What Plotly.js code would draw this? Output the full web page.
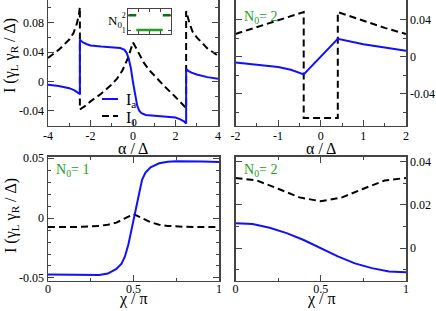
<!DOCTYPE html>
<html>
<head>
<meta charset="utf-8">
<script src="https://cdn.plot.ly/plotly-3.0.1.min.js"></script>
<style>html,body{margin:0;padding:0;background:#fff;}#chart{width:436px;height:311px;}</style>
</head>
<body>
<div id="chart"></div>
<script>
// ---- Panel (a): current vs alpha/Delta, N0 changes ----
const alphaA = [-4, -3.5, -3, -2.75, -2.6, -2.5, -2.5, -2.4, -2.2, -2, -1.5, -1, -0.6, -0.4, -0.3, -0.2, -0.1, 0, 0.1, 0.2, 0.3, 0.4, 0.6, 1, 1.5, 2, 2.2, 2.4, 2.5, 2.5, 2.6, 2.75, 3, 3.5, 4];
const IaA    = [-0.0045, -0.006, -0.009, -0.012, -0.015, -0.017, 0.057, 0.054, 0.051, 0.049, 0.0475, 0.0467, 0.0455, 0.043, 0.039, 0.031, 0.018, -0.001, -0.02, -0.033, -0.04, -0.043, -0.0455, -0.0467, -0.0475, -0.049, -0.051, -0.054, -0.057, 0.017, 0.0145, 0.012, 0.0095, 0.006, 0.0038];
const alphaB = [-4, -3.5, -3, -2.8, -2.65, -2.55, -2.5, -2.5, -2.25, -2, -1.5, -1, -0.75, -0.5, -0.25, -0.1, 0, 0.1, 0.25, 0.5, 0.75, 1, 1.5, 2, 2.25, 2.5, 2.5, 2.55, 2.65, 2.8, 3, 3.5, 4];
const I0A    = [0.032, 0.043, 0.057, 0.066, 0.078, 0.09, 0.101, -0.038, -0.033, -0.027, -0.0165, -0.004, 0.004, 0.015, 0.031, 0.045, 0.053, 0.048, 0.04, 0.026, 0.016, 0.008, -0.007, -0.021, -0.029, -0.036, 0.096, 0.09, 0.08, 0.068, 0.06, 0.045, 0.035];
// inset: N0 vs alpha
const insetX2L = [-4, -2.5];
const insetX2R = [2.5, 4];
const insetN2  = [2, 2];
const insetX1  = [-2.5, 2.5];
const insetN1  = [1, 1];

// ---- Panel (b): N0 = 2, current vs alpha/Delta ----
const alphaC = [-2, -1.5, -1, -0.7, -0.4, 0.4, 0.7, 1, 1.5, 2];
const IaC    = [-0.0062, -0.0085, -0.011, -0.014, -0.019, 0.0193, 0.0165, 0.0135, 0.0098, 0.0065];
const alphaD = [-2, -1.5, -1, -0.4, -0.4, 0.4, 0.4, 1, 1.5, 2];
const I0C    = [0.0245, 0.032, 0.039, 0.048, -0.066, -0.066, 0.048, 0.0385, 0.031, 0.0245];

// ---- Panel (c): N0 = 1, current vs chi/pi ----
const chiE = [0, 0.1, 0.2, 0.25, 0.3, 0.35, 0.4, 0.43, 0.45, 0.47, 0.49, 0.5, 0.51, 0.53, 0.55, 0.57, 0.6, 0.65, 0.7, 0.75, 0.8, 0.9, 1];
const IaE  = [-0.0472, -0.0475, -0.0478, -0.0478, -0.0475, -0.0463, -0.0425, -0.038, -0.032, -0.022, -0.008, 0.0, 0.007, 0.021, 0.032, 0.038, 0.0425, 0.0458, 0.047, 0.0475, 0.0475, 0.0472, 0.0468];
const chiF = [0, 0.1, 0.2, 0.3, 0.35, 0.4, 0.45, 0.5, 0.55, 0.6, 0.65, 0.7, 0.8, 0.9, 1];
const I0E  = [-0.0075, -0.0075, -0.0073, -0.0065, -0.0055, -0.0038, -0.0005, 0.0033, 0.0, -0.0035, -0.0055, -0.0065, -0.0073, -0.0075, -0.0075];

// ---- Panel (d): N0 = 2, current vs chi/pi ----
const chiG = [0, 0.1, 0.2, 0.3, 0.4, 0.5, 0.6, 0.7, 0.8, 0.9, 1];
const IaG  = [0.0115, 0.0112, 0.0095, 0.007, 0.0038, 0.0, -0.0038, -0.007, -0.0092, -0.0107, -0.0111];
const chiH = [0, 0.125, 0.25, 0.375, 0.5, 0.625, 0.75, 0.875, 1];
const I0G  = [0.0325, 0.0313, 0.0275, 0.0235, 0.0217, 0.0235, 0.0275, 0.0313, 0.0325];

// ---- tick labels ----
const ticksAlphaWide = [-4, -2, 0, 2, 4];
const ticksAlphaWideText = ["-4", "-2", "0", "2", "4"];
const ticksAlphaNarrow = [-2, -1, 0, 1, 2];
const ticksAlphaNarrowText = ["-2", "-1", "0", "1", "2"];
const ticksChi = [0, 0.5, 1];
const ticksChiText = ["0", "0.5", "1"];
const ticksYa = [-0.04, 0, 0.04, 0.08];
const ticksYaText = ["-0.04", "0", "0.04", "0.08"];
const ticksYb = [-0.04, 0, 0.04];
const ticksYbText = ["-0.04", "0", "0.04"];
const ticksYc = [-0.05, 0, 0.05];
const ticksYcText = ["-0.05", "0", "0.05"];
const ticksYd = [0, 0.02, 0.04];
const ticksYdText = ["0", "0.02", "0.04"];
const insetTicksY = [1, 2];
const insetTicksYText = ["1", "2"];

const W = 436, H = 311;
const px = v => v / W;
const py = v => 1 - v / H;

const FONT = "Liberation Serif, Times New Roman, serif";
const BLUE = "#1010ff";
const GREEN = "#22a022";
const DARKGREEN = "#0a700a";
const FRAME = "#444444";

const dashStyle = "7px,4px";

function lineTrace(x, y, xa, ya, color, dash) {
  return {x: x, y: y, xaxis: xa, yaxis: ya, type: "scatter", mode: "lines",
          line: {color: color, width: 2, dash: dash || "solid"}, hoverinfo: "skip", showlegend: false};
}

const traces = [
  lineTrace(alphaB, I0A, "x", "y", "#000", dashStyle),
  lineTrace(alphaA, IaA, "x", "y", BLUE),
  lineTrace(alphaD, I0C, "x2", "y2", "#000", dashStyle),
  lineTrace(alphaC, IaC, "x2", "y2", BLUE),
  lineTrace(chiF, I0E, "x3", "y3", "#000", dashStyle),
  lineTrace(chiE, IaE, "x3", "y3", BLUE),
  lineTrace(chiH, I0G, "x4", "y4", "#000", dashStyle),
  lineTrace(chiG, IaG, "x4", "y4", BLUE),
  {x: insetX2L, y: insetN2, xaxis: "x5", yaxis: "y5", type: "scatter", mode: "lines", line: {color: DARKGREEN, width: 2.5}, hoverinfo: "skip", showlegend: false},
  {x: insetX2R, y: insetN2, xaxis: "x5", yaxis: "y5", type: "scatter", mode: "lines", line: {color: DARKGREEN, width: 2.5}, hoverinfo: "skip", showlegend: false},
  {x: insetX1, y: insetN1, xaxis: "x5", yaxis: "y5", type: "scatter", mode: "lines", line: {color: GREEN, width: 2.5}, hoverinfo: "skip", showlegend: false}
];

function axBase(extra) {
  return Object.assign({
    showline: true, linecolor: FRAME, linewidth: 1.5,
    ticks: "inside", ticklen: 6, tickwidth: 1, tickcolor: FRAME,
    showgrid: false, zeroline: false, fixedrange: true,
    tickfont: {family: FONT, size: 12, color: "#000"},
    tickmode: "array"
  }, extra);
}

const layout = {
  width: W, height: H,
  margin: {l: 0, r: 0, t: 0, b: 0},
  paper_bgcolor: "#fff", plot_bgcolor: "#fff",
  showlegend: false,
  xaxis: axBase({domain: [px(48), px(218)], anchor: "y", range: [-4, 4], mirror: false,
    tickvals: ticksAlphaWide, ticktext: ticksAlphaWideText, ticklabelstandoff: -2,
    minor: {tickmode: "linear", tick0: 0, dtick: 1, ticklen: 3, tickcolor: FRAME, ticks: "inside"}}),
  yaxis: axBase({domain: [py(125.7), 1], anchor: "x", range: [-0.06, 0.1108], mirror: "ticks",
    tickvals: ticksYa, ticktext: ticksYaText,
    minor: {tickmode: "linear", tick0: 0, dtick: 0.02, ticklen: 3, tickcolor: FRAME, ticks: "inside"}}),
  xaxis2: axBase({domain: [px(235.5), px(406)], anchor: "y2", range: [-2, 2], mirror: false,
    tickvals: ticksAlphaNarrow, ticktext: ticksAlphaNarrowText, ticklabelstandoff: -2,
    minor: {tickmode: "linear", tick0: 0, dtick: 0.5, ticklen: 3, tickcolor: FRAME, ticks: "inside"}}),
  yaxis2: axBase({domain: [py(125.7), 1], anchor: "x2", side: "right", range: [-0.0742, 0.061], mirror: "ticks",
    tickvals: ticksYb, ticktext: ticksYbText,
    minor: {tickmode: "linear", tick0: 0, dtick: 0.02, ticklen: 3, tickcolor: FRAME, ticks: "inside"}}),
  xaxis3: axBase({domain: [px(48), px(219)], anchor: "y3", range: [0, 1], mirror: "ticks",
    tickvals: ticksChi, ticktext: ticksChiText, ticklabelstandoff: -4,
    minor: {tickmode: "linear", tick0: 0, dtick: 0.25, ticklen: 3, tickcolor: FRAME, ticks: "inside"}}),
  yaxis3: axBase({domain: [py(280.7), py(156.7)], anchor: "x3", range: [-0.0523, 0.0513], mirror: "ticks",
    tickvals: ticksYc, ticktext: ticksYcText,
    minor: {tickmode: "linear", tick0: 0, dtick: 0.01, ticklen: 3, tickcolor: FRAME, ticks: "inside"}}),
  xaxis4: axBase({domain: [px(235.5), px(406)], anchor: "y4", range: [0, 1], mirror: "ticks",
    tickvals: ticksChi, ticktext: ticksChiText, ticklabelstandoff: -4,
    minor: {tickmode: "linear", tick0: 0, dtick: 0.25, ticklen: 3, tickcolor: FRAME, ticks: "inside"}}),
  yaxis4: axBase({domain: [py(280.7), py(156.7)], anchor: "x4", side: "right", range: [-0.015, 0.0423], mirror: "ticks",
    tickvals: ticksYd, ticktext: ticksYdText,
    minor: {tickmode: "linear", tick0: 0, dtick: 0.01, ticklen: 3, tickcolor: FRAME, ticks: "inside"}}),
  xaxis5: axBase({domain: [px(128.3), px(170.7)], anchor: "y5", range: [-4, 4], mirror: "ticks",
    tickvals: [-2, 0, 2], showticklabels: false, ticklen: 3, linewidth: 1}),
  yaxis5: axBase({domain: [py(34.3), py(9)], anchor: "x5", range: [0.71, 2.43], mirror: "ticks",
    tickvals: insetTicksY, ticktext: insetTicksYText, ticklen: 3, linewidth: 1,
    tickfont: {family: FONT, size: 8, color: "#000"}}),
  shapes: [
    {type: "line", xref: "paper", yref: "paper", x0: px(102), x1: px(118), y0: py(99), y1: py(99), line: {color: BLUE, width: 2}},
    {type: "line", xref: "paper", yref: "paper", x0: px(102), x1: px(118), y0: py(116), y1: py(116), line: {color: "#000", width: 2, dash: dashStyle}}
  ],
  annotations: [
    // legend labels
    {xref: "paper", yref: "paper", x: px(124), y: py(101), xanchor: "left", yanchor: "middle", showarrow: false,
     text: "I<sub>a</sub>", font: {family: FONT, size: 16, color: "#000"}},
    {xref: "paper", yref: "paper", x: px(124), y: py(119), xanchor: "left", yanchor: "middle", showarrow: false,
     text: "I<sub>0</sub>", font: {family: FONT, size: 16, color: "#000"}},
    // inset label
    {xref: "paper", yref: "paper", x: px(106), y: py(22), xanchor: "left", yanchor: "middle", showarrow: false,
     text: "N<sub>0</sub>", font: {family: FONT, size: 13, color: "#000"}},
    // y titles
    {xref: "paper", yref: "paper", x: px(11), y: py(56), xanchor: "center", yanchor: "middle", showarrow: false, textangle: -90,
     text: "I (γ<sub>L</sub> γ<sub>R</sub> / Δ)", font: {family: FONT, size: 16, color: "#000"}},
    {xref: "paper", yref: "paper", x: px(11), y: py(216), xanchor: "center", yanchor: "middle", showarrow: false, textangle: -90,
     text: "I (γ<sub>L</sub> γ<sub>R</sub> / Δ)", font: {family: FONT, size: 16, color: "#000"}},
    // x titles
    {xref: "paper", yref: "paper", x: px(133), y: py(148.5), xanchor: "center", yanchor: "middle", showarrow: false,
     text: "α / Δ", font: {family: FONT, size: 16, color: "#000"}},
    {xref: "paper", yref: "paper", x: px(321), y: py(148.5), xanchor: "center", yanchor: "middle", showarrow: false,
     text: "α / Δ", font: {family: FONT, size: 16, color: "#000"}},
    {xref: "paper", yref: "paper", x: px(133.5), y: py(299), xanchor: "center", yanchor: "middle", showarrow: false,
     text: "χ / π", font: {family: FONT, size: 16, color: "#000"}},
    {xref: "paper", yref: "paper", x: px(321), y: py(299), xanchor: "center", yanchor: "middle", showarrow: false,
     text: "χ / π", font: {family: FONT, size: 16, color: "#000"}},
    // N0 labels
    {xref: "paper", yref: "paper", x: px(242), y: py(17), xanchor: "left", yanchor: "middle", showarrow: false,
     text: "N<sub>0</sub>= 2", font: {family: FONT, size: 14, color: GREEN}},
    {xref: "paper", yref: "paper", x: px(54), y: py(171), xanchor: "left", yanchor: "middle", showarrow: false,
     text: "N<sub>0</sub>= 1", font: {family: FONT, size: 14, color: GREEN}},
    {xref: "paper", yref: "paper", x: px(242), y: py(170), xanchor: "left", yanchor: "middle", showarrow: false,
     text: "N<sub>0</sub>= 2", font: {family: FONT, size: 14, color: GREEN}}
  ]
};

Plotly.newPlot("chart", traces, layout, {displayModeBar: false, staticPlot: true});
</script>
</body>
</html>
